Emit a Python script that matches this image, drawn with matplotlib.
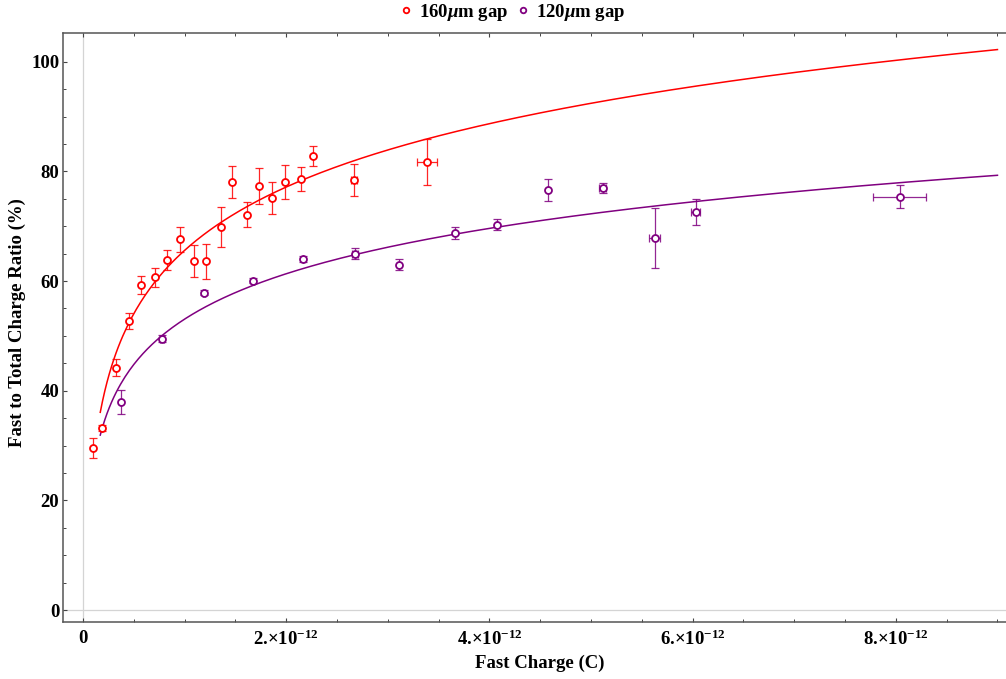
import numpy as np
import matplotlib
matplotlib.use("Agg")
import matplotlib.pyplot as plt

# fast charge in pC, ratio in %
x160 = [0.098, 0.187, 0.325, 0.453, 0.575, 0.709, 0.831, 0.959, 1.097, 1.208,
        1.360, 1.471, 1.612, 1.737, 1.862, 1.990, 2.141, 2.266, 2.663, 3.389]
y160 = [29.6, 33.2, 44.2, 52.7, 59.3, 60.7, 63.9, 67.6, 63.6, 63.6,
        69.8, 78.0, 72.1, 77.3, 75.1, 78.0, 78.6, 82.8, 78.4, 81.7]
yerr160 = [1.8, 0.5, 1.6, 1.5, 1.6, 1.7, 1.8, 2.3, 2.9, 3.2,
           3.65, 2.9, 2.3, 3.3, 2.9, 3.1, 2.25, 1.9, 2.9, 4.2]
xerr160 = [0, 0, 0, 0, 0, 0, 0, 0, 0, 0,
           0, 0, 0, 0, 0, 0, 0, 0, 0.03, 0.10]

x120 = [0.377, 0.775, 1.189, 1.678, 2.163, 2.673, 3.110, 3.665, 4.072, 4.574,
        5.113, 5.626, 6.030, 8.036]
y120 = [38.0, 49.5, 57.9, 60.1, 64.0, 65.0, 63.0, 68.8, 70.3, 76.6,
        77.0, 67.8, 72.6, 75.4]
yerr120 = [2.2, 0.6, 0.4, 0.5, 0.6, 1.0, 1.0, 1.1, 1.05, 1.95,
           0.95, 5.5, 2.35, 2.1]
xerr120 = [0, 0.02, 0.01, 0, 0, 0.03, 0, 0, 0, 0,
           0.03, 0.054, 0.045, 0.26]

# log fits: ratio = a + b*ln(Q / pC)
fit160 = (65.6, 16.67)
fit120 = (53.06, 11.94)
fit_range = (0.17, 9.0)

xticks = [0, 2, 4, 6, 8]
xticklabels = ["0"] + [f"{v}.\u00d710$^{{-12}}$" for v in xticks[1:]]
yticks = [0, 20, 40, 60, 80, 100]

RED = "#ff0000"
PURPLE = "#800080"
PC = 1e-12

plt.rcParams["font.family"] = ["Liberation Serif", "DejaVu Serif"]
plt.rcParams["font.weight"] = "bold"
plt.rcParams["mathtext.fontset"] = "custom"
plt.rcParams["mathtext.rm"] = "Liberation Serif:bold"
plt.rcParams["mathtext.bf"] = "Liberation Serif:bold"
plt.rcParams["mathtext.it"] = "Liberation Serif:italic:bold"

fig = plt.figure(figsize=(10.06, 6.79), dpi=100)
ax = fig.add_axes([0.0631, 0.0844, 0.9375, 0.8666])

ax.axvline(0, color="#d4d4d4", lw=0.9, zorder=0)
ax.axhline(0, color="#d4d4d4", lw=0.9, zorder=0)

xf = np.linspace(*fit_range, 400)
for (a, b), c in [(fit160, RED), (fit120, PURPLE)]:
    ax.plot(xf * PC, a + b * np.log(xf), color=c, lw=1.1, zorder=2)

series = [
    (x160, y160, xerr160, yerr160, RED, "160$\\mu$m gap"),
    (x120, y120, xerr120, yerr120, PURPLE, "120$\\mu$m gap"),
]
handles = []
for xs, ys, xe, ye, c, lab in series:
    xs = np.array(xs) * PC
    xe = np.array(xe) * PC
    ax.errorbar(xs, ys, xerr=xe, yerr=ye, fmt="none", ecolor=c, elinewidth=0.9,
                capsize=3, capthick=0.9, alpha=0.85, zorder=3)
    h, = ax.plot(xs, ys, "o", ms=5, mfc="white", mec=c, mew=1.3, ls="none",
                 zorder=4, label=lab)
    handles.append(h)

ax.set_xlim(-0.192 * PC, 9.09 * PC)
ax.set_ylim(-2.13, 105.2)
ax.set_xticks([v * PC for v in xticks])
ax.set_xticklabels(xticklabels)
ax.set_xticks(np.arange(0, 9.01, 0.5) * PC, minor=True)
ax.set_yticks(yticks)
ax.set_yticks(np.arange(0, 105, 5), minor=True)

for s in ["left", "bottom", "top"]:
    ax.spines[s].set_color("#555555")
    ax.spines[s].set_linewidth(1.1)
ax.spines["right"].set_visible(False)
ax.tick_params(which="both", direction="in", top=True, right=False,
               color="#444444", labelsize=13.5)
ax.tick_params(which="major", length=3.2, width=0.8)
ax.tick_params(which="minor", length=2.2, width=0.7)
ax.tick_params(axis="x", pad=6)
ax.tick_params(axis="y", pad=3)

ax.set_xlabel("Fast Charge (C)", fontsize=13.5, fontweight="bold")
ax.set_ylabel("Fast to Total Charge Ratio (%)", fontsize=13.5, fontweight="bold")
ax.xaxis.set_label_coords(0.505, -0.070)
ax.yaxis.set_label_coords(-0.049, 0.508)
ax.xaxis.label.set_va("center")
ax.yaxis.label.set_va("center")

fig.legend(handles=handles, loc="center", bbox_to_anchor=(0.509, 0.982),
           ncol=2, frameon=False, fontsize=13.5, handlelength=0.8,
           handletextpad=0.3, columnspacing=0.4, markerscale=0.8)

fig.savefig("out.png", dpi=100)
